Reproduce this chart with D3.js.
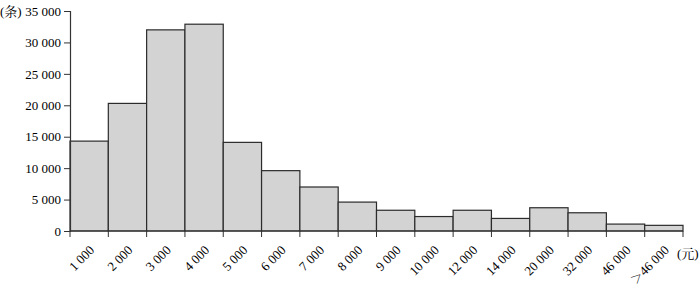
<!DOCTYPE html>
<html>
<head>
<meta charset="utf-8">
<script src="https://cdn.jsdelivr.net/npm/d3@7"></script>
<style>
  body { margin: 0; background: #fff; }
  svg text { font-family: "Liberation Serif", "Times New Roman", serif; }
  svg text.cjk, svg tspan.cjk { font-family: "Liberation Serif", "Noto Serif CJK SC", "Noto Sans CJK SC", serif; }
</style>
</head>
<body>
<div class="chart"></div>
<script>
// income bins (元) and number of records (条)
const bins = ["1 000", "2 000", "3 000", "4 000", "5 000", "6 000", "7 000", "8 000",
              "9 000", "10 000", "12 000", "14 000", "20 000", "32 000", "46 000", "＞46 000"];
const counts = [14300, 20300, 32000, 32900, 14100, 9600, 7000, 4600,
                3300, 2300, 3300, 2000, 3700, 2900, 1100, 900];
const yTicks = [0, 5000, 10000, 15000, 20000, 25000, 30000, 35000];

const w = 700;
const h = 286;
const padL = 70, padR = 683, padT = 11, padB = 231;

let svg = d3.select(".chart").append("svg")
    .attr("width", w)
    .attr("height", h);

let xScale = d3.scaleBand()
    .domain(bins)
    .range([padL, padR])
    .padding(0);

let yScale = d3.scaleLinear()
    .domain([0, 35000])
    .range([padB, padT]);

// bars
svg.selectAll(".bar")
    .data(bins)
    .enter()
    .append("rect")
    .attr("class", "bar")
    .attr("x", (d) => xScale(d))
    .attr("y", (d, i) => yScale(counts[i]))
    .attr("width", xScale.bandwidth())
    .attr("height", (d, i) => padB - yScale(counts[i]))
    .attr("fill", "#d3d3d3")
    .attr("stroke", "#2b2b2b")
    .attr("stroke-width", 1.2);

// y axis
const fmt = (v) => v === 0 ? "0" : d3.format(",")(v).replace(",", " ");
const yAxis = d3.axisLeft(yScale)
    .tickValues(yTicks)
    .tickSize(6)
    .tickPadding(3)
    .tickFormat(fmt);
let yG = svg.append("g")
    .attr("transform", "translate(" + padL + ",0)")
    .call(yAxis)
    .attr("font-family", null);
yG.select(".domain").attr("stroke", "#333").attr("stroke-width", 1.2);
yG.selectAll(".tick line").attr("stroke", "#333");
yG.selectAll(".tick text").attr("font-size", 13).attr("fill", "#000");

// x axis: ticks at bin edges
const edges = bins.map((d) => xScale(d)).concat([padR]);
const xG = svg.append("g");
xG.append("line")
    .attr("x1", padL).attr("x2", padR)
    .attr("y1", padB).attr("y2", padB)
    .attr("stroke", "#333").attr("stroke-width", 1.2);
xG.selectAll(".edge")
    .data(edges)
    .enter()
    .append("line")
    .attr("class", "edge")
    .attr("x1", (d) => d).attr("x2", (d) => d)
    .attr("y1", padB).attr("y2", padB + 6)
    .attr("stroke", "#333");

let xl = xG.selectAll(".xlabel")
    .data(bins)
    .enter()
    .append("text")
    .attr("class", "xlabel")
    .attr("text-anchor", "end")
    .attr("font-size", 13)
    .attr("fill", "#000")
    .attr("transform", (d) => "translate(" + (xScale(d) + xScale.bandwidth() / 2 + 6) + "," + (padB + 20) + ") rotate(-45)");
xl.each(function(d) {
    let t = d3.select(this);
    if (d.startsWith("＞")) {
        t.append("tspan").attr("class", "cjk").attr("font-size", 12).text("＞");
        t.append("tspan").text(d.slice(1));
    } else {
        t.text(d);
    }
});

// unit labels
svg.append("text")
    .attr("class", "cjk")
    .attr("x", 0).attr("y", 16)
    .attr("font-size", 13)
    .attr("fill", "#000")
    .text("(条)");
svg.append("text")
    .attr("class", "cjk")
    .attr("x", 677).attr("y", 258)
    .attr("font-size", 13)
    .attr("fill", "#000")
    .text("(元)");
</script>
</body>
</html>
